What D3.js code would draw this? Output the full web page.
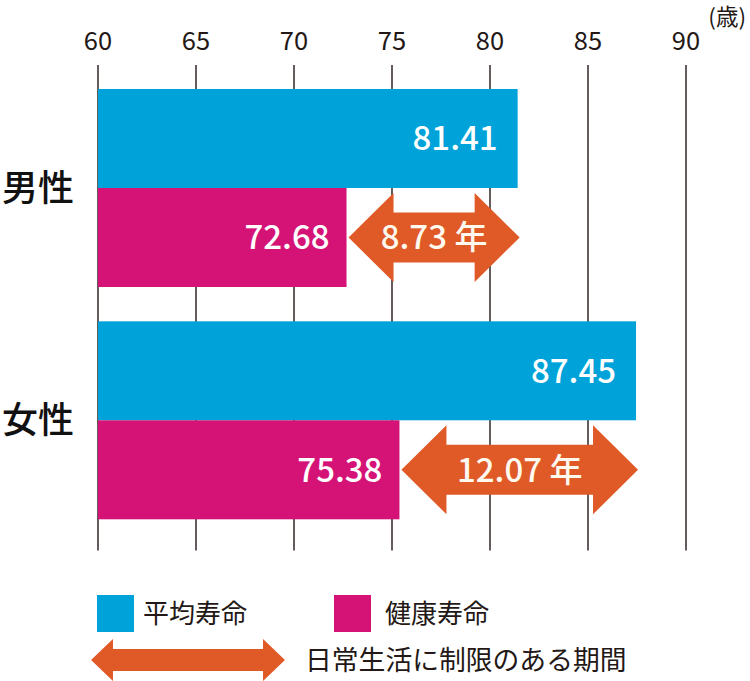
<!DOCTYPE html>
<html><head><meta charset="utf-8">
<script src="https://cdn.jsdelivr.net/npm/d3@7"></script>
<style>
html,body{margin:0;padding:0;background:#fff;}
svg{display:block;}
text{font-family:"Noto Sans CJK JP","Noto Sans",sans-serif;}
</style></head>
<body><div id="chart"></div>
<script>
const categories = ["男性", "女性"];
const avgLife = [81.41, 87.45];
const healthyLife = [72.68, 75.38];
const gapLabels = ["8.73 年", "12.07 年"];
const tickValues = [60, 65, 70, 75, 80, 85, 90];
const unitLabel = "(歳)";
const legendLabels = ["平均寿命", "健康寿命", "日常生活に制限のある期間"];

const W = 750, H = 681;
const C = {blue:"#00a3d9", pink:"#d51377", orange:"#e05a27", ink:"#231815"};

const svg = d3.select("#chart").append("svg").attr("width", W).attr("height", H);

const x = d3.scaleLinear().domain([60, 90]).range([98, 686]);
const y = d3.scaleBand().domain(categories).range([89, 519.3]).paddingInner(0.1477);
const sub = d3.scaleBand().domain(["avg", "healthy"]).range([0, y.bandwidth()]);

// gridlines
svg.append("g").selectAll("line").data(tickValues).join("line")
  .attr("x1", d => x(d)).attr("x2", d => x(d))
  .attr("y1", 65).attr("y2", 550.5)
  .attr("stroke", C.ink).attr("stroke-width", 1.4);

// top axis labels
svg.append("g").selectAll("text").data(tickValues).join("text")
  .attr("x", d => x(d)).attr("y", 49.5)
  .attr("text-anchor", "middle").attr("font-size", 25.5).attr("fill", C.ink)
  .text(d => d);
svg.append("text").attr("x", 746).attr("y", 25).attr("text-anchor", "end")
  .attr("font-size", 22.5).attr("fill", C.ink).text(unitLabel);

// category labels
svg.append("g").selectAll("text").data(categories).join("text")
  .attr("x", 38).attr("y", d => y(d) + y.bandwidth() / 2)
  .attr("dy", "0.36em").attr("text-anchor", "middle")
  .attr("font-size", 36).attr("font-weight", 500).attr("fill", "#111")
  .text(d => d);

function arrowPath(x0, x1, cy, headLen, headH, shaftH) {
  const p = d3.path();
  p.moveTo(x0, cy);
  p.lineTo(x0 + headLen, cy - headH / 2);
  p.lineTo(x0 + headLen, cy - shaftH / 2);
  p.lineTo(x1 - headLen, cy - shaftH / 2);
  p.lineTo(x1 - headLen, cy - headH / 2);
  p.lineTo(x1, cy);
  p.lineTo(x1 - headLen, cy + headH / 2);
  p.lineTo(x1 - headLen, cy + shaftH / 2);
  p.lineTo(x0 + headLen, cy + shaftH / 2);
  p.lineTo(x0 + headLen, cy + headH / 2);
  p.closePath();
  return p.toString();
}

categories.forEach((cat, i) => {
  const g = svg.append("g").attr("transform", `translate(0,${y(cat)})`);
  // average bar
  g.append("rect").attr("x", x(60)).attr("y", sub("avg"))
    .attr("width", x(avgLife[i]) - x(60)).attr("height", sub.bandwidth())
    .attr("fill", C.blue);
  g.append("text").attr("x", x(avgLife[i]) - 20).attr("y", sub("avg") + sub.bandwidth() / 2)
    .attr("dy", "0.36em").attr("text-anchor", "end").attr("font-size", 33).attr("font-weight", 500)
    .attr("fill", "#fff").text(avgLife[i].toFixed(2));
  // healthy bar
  g.append("rect").attr("x", x(60)).attr("y", sub("healthy"))
    .attr("width", x(healthyLife[i]) - x(60)).attr("height", sub.bandwidth())
    .attr("fill", C.pink);
  g.append("text").attr("x", x(healthyLife[i]) - 17).attr("y", sub("healthy") + sub.bandwidth() / 2)
    .attr("dy", "0.36em").attr("text-anchor", "end").attr("font-size", 33).attr("font-weight", 500)
    .attr("fill", "#fff").text(healthyLife[i].toFixed(2));
  // gap arrow
  const cy = sub("healthy") + sub.bandwidth() / 2;
  const a0 = x(healthyLife[i]) + 2, a1 = x(avgLife[i]) + 2;
  g.append("path").attr("d", arrowPath(a0, a1, cy, 45, 89, 50)).attr("fill", C.orange);
  g.append("text").attr("x", (a0 + a1) / 2).attr("y", cy)
    .attr("dy", "0.36em").attr("text-anchor", "middle").attr("font-size", 33).attr("font-weight", 500)
    .attr("fill", "#fffaf0").text(gapLabels[i]);
});

// legend
const leg = svg.append("g");
leg.append("rect").attr("x", 97).attr("y", 595).attr("width", 37).attr("height", 37).attr("fill", C.blue);
leg.append("text").attr("x", 143).attr("y", 613.5).attr("dy", "0.36em")
  .attr("font-size", 26).attr("fill", C.ink).text(legendLabels[0]);
leg.append("rect").attr("x", 334).attr("y", 595).attr("width", 37).attr("height", 37).attr("fill", C.pink);
leg.append("text").attr("x", 385).attr("y", 613.5).attr("dy", "0.36em")
  .attr("font-size", 26).attr("fill", C.ink).text(legendLabels[1]);
leg.append("path").attr("d", arrowPath(91, 285, 660, 22, 42, 22)).attr("fill", C.orange);
leg.append("text").attr("x", 305).attr("y", 660).attr("dy", "0.36em")
  .attr("font-size", 26.8).attr("fill", C.ink).text(legendLabels[2]);
</script></body></html>
